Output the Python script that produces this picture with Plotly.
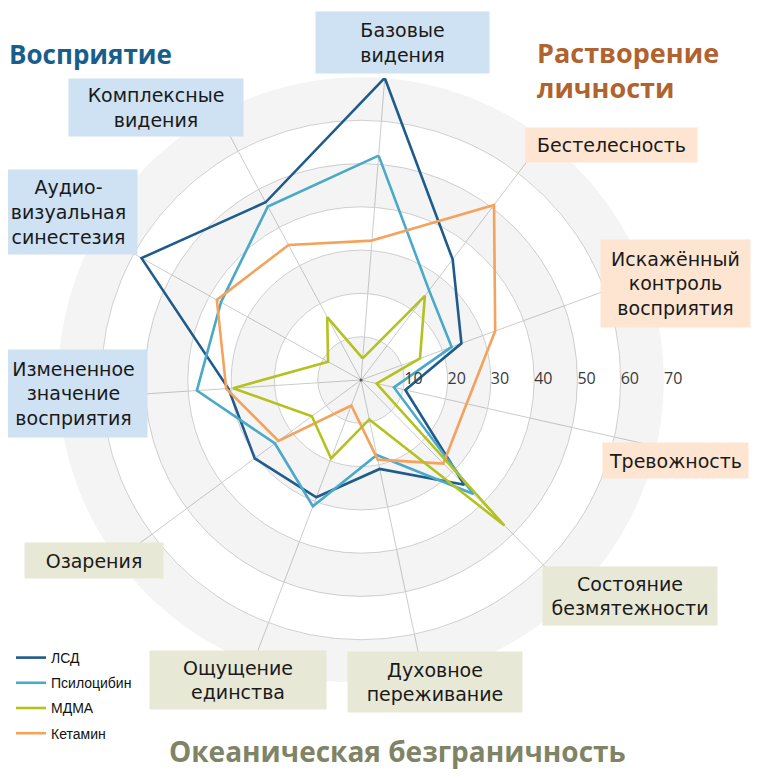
import plotly.graph_objects as go

# axes of the radar, clockwise from the top
categories = [
    "Базовые видения", "Бестелесность", "Искажённый контроль восприятия", "Тревожность",
    "Состояние безмятежности", "Духовное переживание", "Ощущение единства", "Озарения",
    "Измененное значение восприятия", "Аудио-визуальная синестезия", "Комплексные видения",
]
captions = [
    "Базовые<br>видения", "Бестелесность", "Искажённый<br>контроль<br>восприятия", "Тревожность",
    "Состояние<br>безмятежности", "Духовное<br>переживание", "Ощущение<br>единства", "Озарения",
    "Измененное<br>значение<br>восприятия", "Аудио-<br>визуальная<br>синестезия", "Комплексные<br>видения",
]

lsd = [70, 35, 24.7, 10.5, 34, 21, 29, 30.5, 30.7, 58, 46.6]
psilocybin = [52, 26, 22.3, 7.8, 37, 17.7, 31.2, 24.7, 38, 37, 45.5]
mdma = [5, 24.4, 14.5, 3.7, 47.2, 9.3, 19.4, 14.1, 29.6, 8.7, 16.5]
ketamine = [32.3, 50.8, 33, 25, 27.1, 18.8, 6.3, 23.7, 31.2, 38.1, 35.4]

tick_vals = [10, 20, 30, 40, 50, 60, 70]
tick_text = ["10", "20", "30", "40", "50", "60", "70"]
band_base = [0, 20, 40, 60]

# the page body keeps an 8px margin, so the figure is 16px smaller than the window
PAD = 8
W, H = 760 - 2 * PAD, 779 - 2 * PAD
ROT = 85.5  # first axis is tilted a few degrees to the right of north
CX, CY, R = 361, 380, 303  # centre and outer radius of the radar, window px


def px(x):
    return (x - PAD) / W


def py(y):
    return 1 - (y - PAD) / H


theta = [i * 360 / len(categories) for i in range(len(categories))]

fig = go.Figure()

# alternating grey rings
fig.add_trace(go.Barpolar(
    r=[10] * len(band_base), base=band_base, theta=[0] * len(band_base),
    width=[360] * len(band_base), marker=dict(color="rgba(0,0,0,0.045)", line=dict(width=0)),
    showlegend=False, hoverinfo="skip",
))

series = [
    ("ЛСД", lsd, "#1f5b8b", 1),
    ("Псилоцибин", psilocybin, "#4aa9c8", 2),
    ("Кетамин", ketamine, "#f4a25c", 4),
    ("МДМА", mdma, "#b3c21f", 3),
]
for name, vals, color, rank in series:
    fig.add_trace(go.Scatterpolar(
        r=vals + vals[:1], theta=theta + theta[:1], mode="lines", name=name,
        line=dict(color=color, width=2.6), legendrank=rank, legendgroup=name,
        text=categories + categories[:1], hovertemplate="%{text}: %{r}<extra>" + name + "</extra>",
    ))

# radial tick labels along the horizontal line to the right
fig.add_trace(go.Scatterpolar(
    r=tick_vals, theta=[ROT] * len(tick_vals), mode="text", text=tick_text,
    textposition="middle right", textfont=dict(family="Open Sans", size=16, color="#3a3a3a"),
    showlegend=False, hoverinfo="skip",
))
fig.add_trace(go.Scatterpolar(
    r=[0], theta=[0], mode="markers", marker=dict(size=3, color="#555555"),
    showlegend=False, hoverinfo="skip",
))

blue, peach, olive = "#cfe2f3", "#fde5d1", "#e8e8d6"
# (centre x, centre y, width, height, colour) of each caption box, window px
boxes = [
    (402.5, 42.5, 173, 61, blue),
    (611.5, 145, 171, 34, peach),
    (675.5, 283.5, 149, 87, peach),
    (675.5, 460.5, 145, 35, peach),
    (630, 596, 174, 58, olive),
    (435, 682, 174, 60, olive),
    (238, 680, 176, 58, olive),
    (94, 560.5, 138, 35, olive),
    (73.5, 393.5, 147, 87, blue),
    (68.5, 212, 137, 84, blue),
    (156, 107.5, 174, 57, blue),
]
for text, (bx, by, bw, bh, bg) in zip(captions, boxes):
    fig.add_annotation(
        x=px(bx), y=py(by), xref="paper", yref="paper", text=text, showarrow=False,
        xanchor="center", yanchor="middle", width=bw, height=bh, bgcolor=bg,
        borderpad=0, align="center",
        font=dict(family="DejaVu Sans", size=19, color="#1a1a1a"),
    )

headers = [
    ("<b>Восприятие</b>", 7, 54, "left", 26, "#175e8c"),
    ("<b>Растворение<br>личности</b>", 535, 70, "left", 27, "#b0622f"),
    ("<b>Океаническая безграничность</b>", 397, 751, "center", 28, "#7f8467"),
]
for text, hx, hy, anchor, size, color in headers:
    fig.add_annotation(
        x=px(hx), y=py(hy), xref="paper", yref="paper", text=text, showarrow=False,
        xanchor=anchor, yanchor="middle", align="left",
        font=dict(family="Open Sans", size=size, color=color),
    )

fig.update_layout(
    width=W, height=H, margin=dict(l=0, r=0, t=0, b=0),
    paper_bgcolor="white", plot_bgcolor="white",
    polar=dict(
        domain=dict(x=[px(CX - R), px(CX + R)], y=[py(CY + R), py(CY - R)]),
        bgcolor="white", barmode="overlay",
        angularaxis=dict(rotation=ROT, direction="clockwise", tickmode="array", tickvals=theta,
                         showticklabels=False, ticks="", showline=False,
                         gridcolor="#cccccc", gridwidth=0.8),
        radialaxis=dict(range=[0, 70], tickvals=tick_vals, showticklabels=False, ticks="",
                        showline=False, gridcolor="#d4d4d4", gridwidth=0.8),
    ),
    legend=dict(x=px(11), y=py(642), xanchor="left", yanchor="top", tracegroupgap=4,
                font=dict(family="Liberation Sans", size=14, color="#111111"),
                bgcolor="rgba(0,0,0,0)"),
)

fig.write_html("out.html")
